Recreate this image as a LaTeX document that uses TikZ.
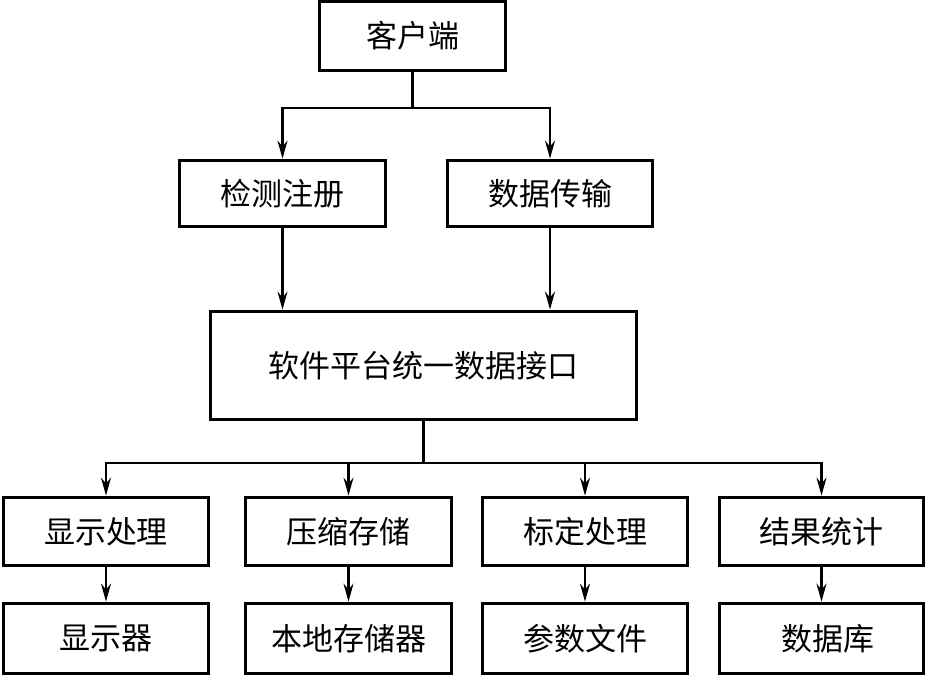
\documentclass[tikz,border=0pt]{standalone}
\usepackage{fontspec}
\setmainfont{Noto Sans CJK SC}
\usetikzlibrary{arrows.meta}
\begin{document}
\begin{tikzpicture}[x=1pt,y=-1pt,
  box/.style={draw=black,line width=3.8pt,inner sep=0pt,minimum width=#1,font=\fontsize{31}{36}\selectfont},
  conn/.style={line width=2.3pt},
  arr/.style={line width=2.3pt,-{Stealth[length=18pt,width=10pt,inset=6pt]}}]
\useasboundingbox (0,0) rectangle (927,676);
\node[box=186pt,minimum height=69pt] (kh) at (412.5,36) {客户端};
\node[box=206pt,minimum height=66pt] (jc) at (282.5,193.5) {检测注册};
\node[box=205pt,minimum height=66pt] (sj) at (550,193.5) {数据传输};
\node[box=426pt,minimum height=108pt] (pt) at (423.5,365.5) {软件平台统一数据接口};
\node[box=205pt,minimum height=68pt] (a1) at (106,531.5) {显示处理};
\node[box=206pt,minimum height=68pt] (a2) at (348.5,531.5) {压缩存储};
\node[box=205pt,minimum height=68pt] (a3) at (585,531.5) {标定处理};
\node[box=204pt,minimum height=68pt] (a4) at (821.5,531.5) {结果统计};
\node[box=205pt,minimum height=70pt] (b1) at (106,638.5) {显示器};
\node[box=206pt,minimum height=70pt] (b2) at (348.5,638.5) {本地存储器};
\node[box=205pt,minimum height=70pt] (b3) at (585,638.5) {参数文件};
\node[box=204pt,minimum height=70pt] (b4) at (821.5,638.5) {\hspace*{12pt}数据库};
\coordinate (j1) at (412.5,108);
\coordinate (j2) at (423.5,463);
\draw[conn] (kh.south) -- (j1);
\draw[arr] (j1) -| (jc.north);
\draw[arr] (j1) -| (sj.north);
\draw[arr] (jc.south) -- (jc.south |- pt.north);
\draw[arr] (sj.south) -- (sj.south |- pt.north);
\draw[conn] (pt.south) -- (j2);
\foreach \n in {a1,a2,a3,a4}{\draw[arr] (j2) -| (\n.north);}
\draw[arr] (a1.south) -- (b1.north);
\draw[arr] (a2.south) -- (b2.north);
\draw[arr] (a3.south) -- (b3.north);
\draw[arr] (a4.south) -- (b4.north);
\end{tikzpicture}
\end{document}
